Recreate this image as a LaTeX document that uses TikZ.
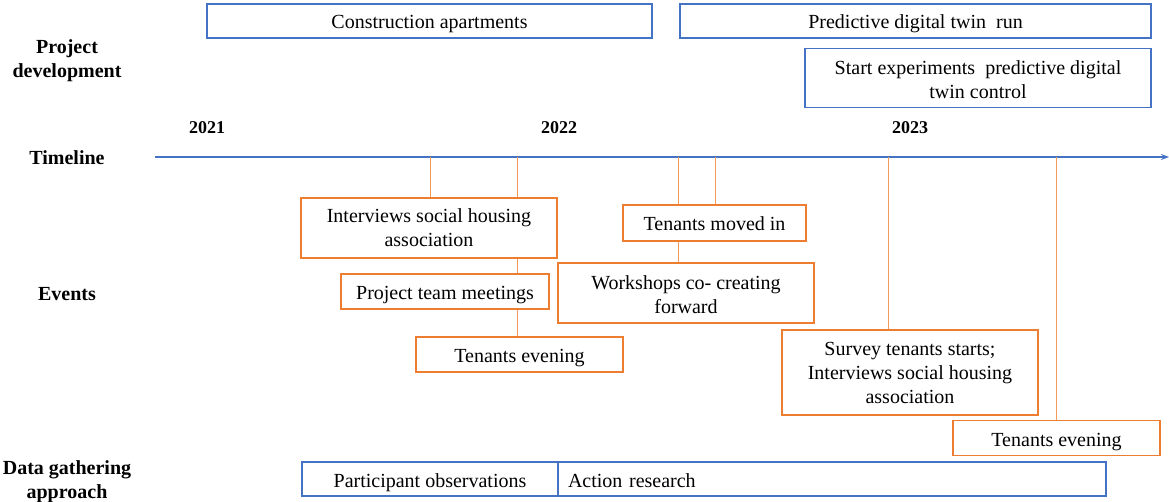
\documentclass[tikz,border=0pt]{standalone}
\usepackage{fontspec}
\setmainfont{Liberation Serif}
\usetikzlibrary{arrows.meta}
\definecolor{tlblue}{HTML}{4472C4}
\definecolor{evorange}{HTML}{ED7D31}
\definecolor{lnorange}{HTML}{F19A5C}
\tikzset{
  txt/.style={font=\fontsize{20}{24}\selectfont, inner sep=0pt},
  lbl/.style={font=\fontsize{20}{24}\selectfont\bfseries, align=center, inner sep=0pt},
  yr/.style={font=\fontsize{18}{22}\selectfont\bfseries, inner sep=0pt},
  bluebox/.style={draw=tlblue, line width=1.2pt, txt, align=center},
  orbox/.style={draw=evorange, line width=1.2pt, txt, align=center},
  oneline/.style={text height=18pt, text depth=2pt},
  conn/.style={draw=lnorange, line width=0.9pt},
}
\begin{document}
\begin{tikzpicture}[x=1pt,y=-1pt]
\useasboundingbox (0,0) rectangle (1169,502);
% labels
\node[lbl] (lpd) at (67,61) {Project\\development};
\node[lbl] (ltl) at (67,158) {Timeline};
\node[lbl] (lev) at (67,294) {Events};
\node[lbl] (ldg) at (67,482) {Data gathering\\approach};
% years
\node[yr] (y21) at (207,128) {2021};
\node[yr] (y22) at (559,128) {2022};
\node[yr] (y23) at (910,128) {2023};
% project development boxes
\node[bluebox, oneline, minimum width=445, minimum height=34] (constr) at (429.5,21) {Construction apartments};
\node[bluebox, oneline, minimum width=471, minimum height=34] (pred) at (915.5,21) {Predictive digital twin~ run};
\node[bluebox, minimum width=346, minimum height=59] (start) at (978,78) {\rule{0pt}{17pt}Start experiments~ predictive digital\\twin control};
% timeline
\coordinate (ts) at (155,157);
\coordinate (te) at (1169,157);
\draw[tlblue, line width=1.6pt, -{Stealth[length=8pt,width=6pt]}] (ts) -- (te);
% events
\node[orbox, minimum width=256, minimum height=60] (interv1) at (429,228) {Interviews social housing\\association};
\node[orbox, oneline, minimum width=208, minimum height=35] (ptm) at (445,291.5) {Project team meetings};
\node[orbox, oneline, minimum width=207, minimum height=35] (tev1) at (519.5,354.5) {Tenants evening};
\node[orbox, oneline, minimum width=183, minimum height=36] (moved) at (714.5,223) {Tenants moved in};
\node[orbox, minimum width=256, minimum height=60] (work) at (686,293) {\rule{0pt}{17pt}Workshops co- creating\\forward};
\node[orbox, minimum width=256, minimum height=85] (survey) at (910,372.5) {Survey tenants starts;\\Interviews social housing\\association};
\node[orbox, oneline, minimum width=207, minimum height=35] (tev2) at (1056.5,438) {Tenants evening};
% connectors
\coordinate (t1) at (430,157);
\coordinate (t2) at (517,157);
\coordinate (t3) at (678,157);
\coordinate (t4) at (715,157);
\coordinate (t5) at (888,157);
\coordinate (t6) at (1056,157);
\draw[conn] (t1) -- (t1 |- interv1.north);
\draw[conn] (t2) -- (t2 |- interv1.north);
\draw[conn] (interv1.south -| t2) -- (ptm.north -| t2);
\draw[conn] (ptm.south -| t2) -- (tev1.north -| t2);
\draw[conn] (t3) -- (t3 |- moved.north);
\draw[conn] (moved.south -| t3) -- (work.north -| t3);
\draw[conn] (t4) -- (t4 |- moved.north);
\draw[conn] (t5) -- (t5 |- survey.north);
\draw[conn] (t6) -- (t6 |- tev2.north);
% data gathering
\node[bluebox, oneline, minimum width=256, minimum height=34] (po) at (430,479) {Participant observations};
\node[bluebox, oneline, minimum width=548, minimum height=34, text width=528, align=left] (ar) at (832,479) {Action research};
\end{tikzpicture}
\end{document}
